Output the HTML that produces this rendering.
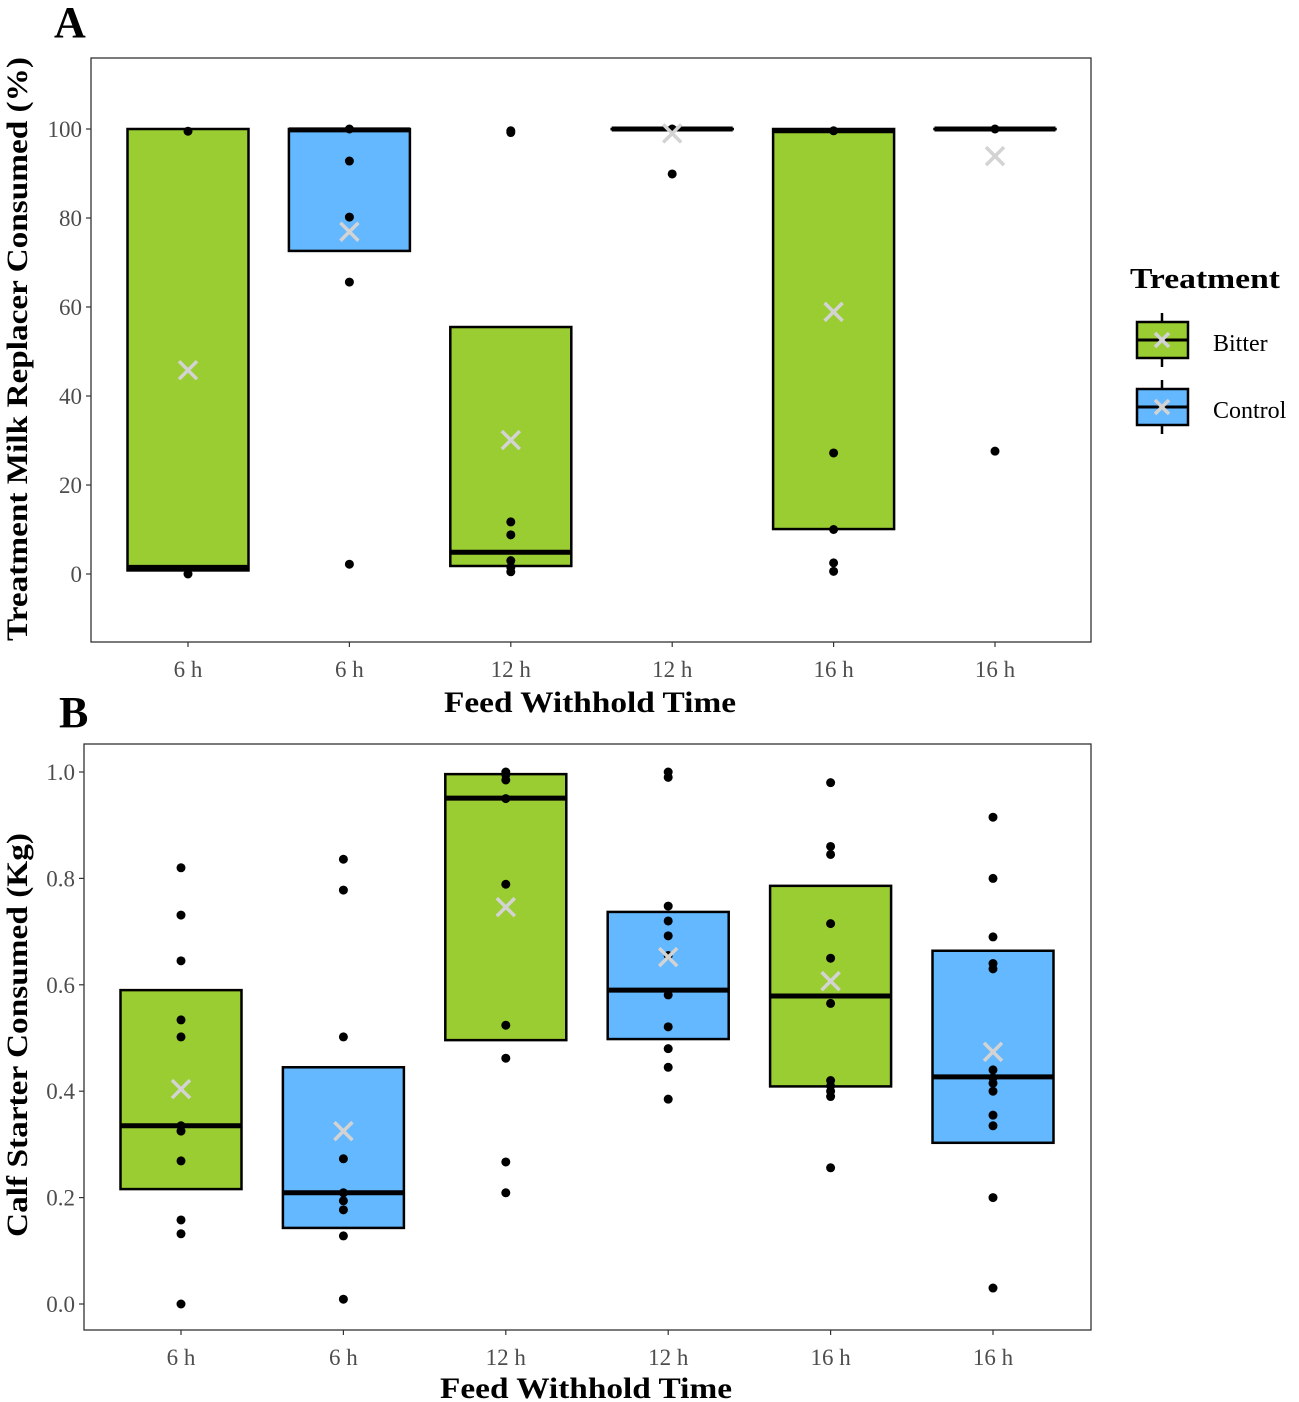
<!DOCTYPE html>
<html><head><meta charset="utf-8">
<style>
body{margin:0;background:#fff;}
svg{display:block;font-family:"Liberation Serif",serif;}
</style></head>
<body>
<svg id="chart" width="1299" height="1402" viewBox="0 0 1299 1402"></svg>
<script>
const categories = ["6 h","6 h","12 h","12 h","16 h","16 h"];
const groups = ["Bitter","Control","Bitter","Control","Bitter","Control"];
// Panel A
const aQ1 = [0.8,72.6,1.8,100,10.1,100];
const aMed = [1.5,99.8,4.9,100,99.6,100];
const aQ3 = [100,100,55.5,100,100,100];
const aMean = [45.8,76.9,30.1,99,58.9,93.9];
const aPoints = [
 [99.5,0],
 [100,92.8,80.2,65.6,2.2],
 [99.6,99.2,11.7,8.8,3,1.5,0.5],
 [100,89.9],
 [99.6,27.2,10,2.5,0.6],
 [100,27.6]
];
const aTicks = [0,20,40,60,80,100];
// Panel B
const bQ1 = [0.216,0.143,0.496,0.498,0.409,0.303];
const bMed = [0.335,0.209,0.951,0.590,0.579,0.427];
const bQ3 = [0.590,0.445,0.996,0.737,0.786,0.664];
const bMean = [0.404,0.325,0.746,0.652,0.607,0.474];
const bPoints = [
 [0.82,0.731,0.645,0.534,0.502,0.335,0.325,0.269,0.158,0.132,0.0],
 [0.836,0.778,0.502,0.273,0.209,0.194,0.177,0.128,0.009],
 [1.0,0.995,0.985,0.95,0.789,0.524,0.462,0.267,0.209],
 [1.0,0.99,0.748,0.72,0.692,0.655,0.581,0.521,0.48,0.445,0.385],
 [0.98,0.86,0.845,0.715,0.65,0.565,0.42,0.41,0.40,0.39,0.256],
 [0.915,0.80,0.69,0.64,0.63,0.44,0.425,0.415,0.40,0.355,0.335,0.20,0.03]
];
const bTicks = [0,0.2,0.4,0.6,0.8,1.0];
const colors = {Bitter:"#9acd32",Control:"#63b8ff"};

const NS="http://www.w3.org/2000/svg";
const svg=document.getElementById('chart');
function el(tag,attrs,parent,text){const e=document.createElementNS(NS,tag);for(const k in attrs)e.setAttribute(k,attrs[k]);if(text!==undefined)e.textContent=text;(parent||svg).appendChild(e);return e;}

function panel(cfg){
  const g=el('g',{});
  
  
  const L=cfg.left,R=1091,T=cfg.top,B=cfg.bottom;
  const y=v=>cfg.y0+(v-cfg.v0)*(cfg.y1-cfg.y0)/(cfg.v1-cfg.v0);
  const x=i=>cfg.x0+cfg.step*i;
  const bw=121;
  const fr=el('rect',{x:L,y:T,width:R-L,height:B-T,fill:'none',stroke:'#333',"stroke-width":1.3},g);
  
  
  cfg.ticks.forEach(t=>{
    const ty=y(t);
    el('line',{x1:L-5,x2:L,y1:ty,y2:ty,stroke:'#333',"stroke-width":1.2},g);
    const tl=el('text',{x:L-9,y:ty+8,"text-anchor":'end',"font-size":23,fill:'#4d4d4d'},g,cfg.fmt(t));
    
    
  });
  categories.forEach((c,i)=>{
    const cx=x(i);
    el('line',{x1:cx,x2:cx,y1:B,y2:B+5,stroke:'#333',"stroke-width":1.2},g);
    const tl=el('text',{x:cx,y:B+35,"text-anchor":'middle',"font-size":23,fill:'#4d4d4d'},g,c);
    
    
    const box=el('rect',{x:cx-bw/2,y:y(cfg.q3[i]),width:bw,height:Math.max(0.1,y(cfg.q1[i])-y(cfg.q3[i])),fill:colors[groups[i]],stroke:'#000',"stroke-width":2.5},g);
    
    
    const md=el('line',{x1:cx-bw/2,x2:cx+bw/2,y1:y(cfg.med[i]),y2:y(cfg.med[i]),stroke:'#000',"stroke-width":5},g);
    
    
    cfg.pts[i].forEach(p=>{
      const d=el('circle',{cx:cx,cy:y(p),r:4.5,fill:'#000'},g);
      
      
    });
    const my=y(cfg.mean[i]);
    const m=el('path',{d:`M${cx-9},${my-9}L${cx+9},${my+9}M${cx-9},${my+9}L${cx+9},${my-9}`,stroke:'#d3d3d3',"stroke-width":3.5},g);
    
    
  });
  const xt=el('text',{x:cfg.xtX,y:cfg.xtY,"text-anchor":'middle',"font-size":30,"font-weight":'bold',textLength:cfg.xtLen,lengthAdjust:'spacingAndGlyphs'},g,'Feed Withhold Time');
  
  
  const yt=el('text',{x:0,y:0,"text-anchor":'middle',"font-size":30,"font-weight":'bold',textLength:cfg.ytLen,lengthAdjust:'spacingAndGlyphs',transform:`translate(27,${cfg.ytY}) rotate(-90)`},g,cfg.ytitle);
  
  
  const pl=el('text',{x:cfg.lblX,y:cfg.lblY,"font-size":44,"font-weight":'bold'},g,cfg.label);
  
  
}

panel({name:'panel-a',left:91,top:58,bottom:642,y0:574,v0:0,y1:129,v1:100,ticks:aTicks,fmt:t=>String(t),x0:188,step:161.4,
  q1:aQ1,med:aMed,q3:aQ3,mean:aMean,pts:aPoints,xtX:590,xtY:712,xtLen:292,ytY:349,ytLen:584,ytitle:'Treatment Milk Replacer Consumed (%)',label:'A',lblX:54,lblY:37});
panel({name:'panel-b',left:84,top:744,bottom:1330,y0:1304,v0:0,y1:772,v1:1,ticks:bTicks,fmt:t=>t.toFixed(1),x0:181,step:162.4,
  q1:bQ1,med:bMed,q3:bQ3,mean:bMean,pts:bPoints,xtX:586,xtY:1398,xtLen:292,ytY:1035,ytLen:404,ytitle:'Calf Starter Consumed (Kg)',label:'B',lblX:59,lblY:727});

// Legend
const lg=el('g',{});


const lt=el('text',{x:1130,y:288,"font-size":29,"font-weight":'bold',textLength:150,lengthAdjust:'spacingAndGlyphs'},lg,'Treatment');


[["Bitter",322],["Control",389]].forEach(([n,ty])=>{
  const e=el('g',{},lg);
  
  
  el('line',{x1:1162,x2:1162,y1:ty-9,y2:ty+45,stroke:'#000',"stroke-width":2.5},e);
  el('rect',{x:1137,y:ty,width:51,height:36,fill:colors[n],stroke:'#000',"stroke-width":2.5},e);
  el('line',{x1:1137,x2:1188,y1:ty+18,y2:ty+18,stroke:'#000',"stroke-width":3},e);
  el('path',{d:`M1155,${ty+11}L1169,${ty+25}M1155,${ty+25}L1169,${ty+11}`,stroke:'#d3d3d3',"stroke-width":3.5},e);
  el('text',{x:1213,y:ty+29,"font-size":24},e,n);
});
</script>
</body></html>
